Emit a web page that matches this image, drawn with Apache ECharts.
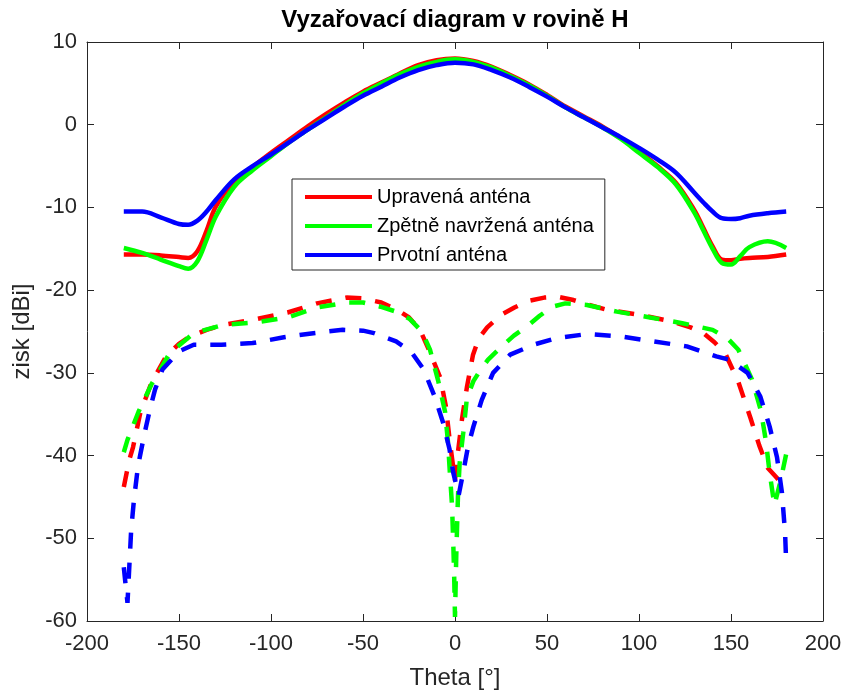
<!DOCTYPE html>
<html>
<head>
<meta charset="utf-8">
<script src="https://cdn.jsdelivr.net/npm/echarts@6/dist/echarts.min.js"></script>
<style>
html,body{margin:0;padding:0;background:#fff;}
#chart{width:844px;height:690px;}
</style>
</head>
<body>
<div id="chart"></div>
<script>
// ---- data ----
const titleText = 'Vyzařovací diagram v rovině H';
const xName = 'Theta [°]';
const yName = 'zisk [dBi]';
const names = ['Upravená anténa', 'Zpětně navržená anténa', 'Prvotní anténa'];

// solid curves (co-polar)
const thetaSolid = [-180,-170,-160,-150,-145,-140,-135,-130,-120,-110,-100,-90,-80,-70,-60,-50,-40,-30,-20,-10,0,10,20,30,40,50,60,70,80,90,100,110,120,130,135,140,145,150,155,160,170,180];
const redSolid   = [-15.7,-15.7,-15.8,-16.0,-16.1,-15.3,-12.8,-9.9,-6.9,-5.1,-3.4,-1.8,-0.2,1.3,2.7,4.0,5.1,6.2,7.2,7.8,8.0,7.7,7.0,6.0,4.9,3.6,2.2,1.0,-0.2,-1.6,-3.2,-5.0,-7.0,-10.3,-12.5,-14.7,-16.3,-16.4,-16.2,-16.1,-16.0,-15.7];
const greenSolid = [-14.9,-15.5,-16.3,-17.1,-17.4,-16.5,-13.9,-11.1,-7.5,-5.5,-3.8,-2.1,-0.6,0.9,2.4,3.8,5.0,6.1,7.0,7.6,7.9,7.6,6.9,5.9,4.8,3.5,2.1,0.9,-0.3,-1.7,-3.4,-5.1,-7.2,-10.6,-12.8,-15.0,-16.7,-16.9,-15.9,-14.8,-14.1,-14.9];
const blueSolid  = [-10.5,-10.5,-11.2,-12.0,-12.1,-11.6,-10.5,-9.1,-6.6,-5.0,-3.6,-2.1,-0.6,0.8,2.2,3.5,4.6,5.7,6.6,7.2,7.5,7.3,6.6,5.7,4.6,3.4,2.1,0.9,-0.3,-1.5,-2.8,-4.2,-5.8,-8.2,-9.4,-10.5,-11.3,-11.4,-11.3,-11.0,-10.7,-10.5];

// dashed curves (cross-polar)
const thetaRedDash = [-180,-177,-175,-171,-165,-157,-150,-144,-135,-126,-108,-91,-75,-59,-50,-40,-32,-25,-19,-14.6,-8,-5,-2.7,0,1.6,3.8,6.5,9.8,13,17.5,25,32.3,40,48.5,56,64.4,73,83.2,101,118,128,135,141,147,154,160.5,165.4,170,174.5,178];
const redDash      = [-43.8,-40.5,-39.0,-34.8,-31.2,-28.0,-26.5,-25.6,-24.8,-24.2,-23.5,-22.7,-21.6,-20.9,-21.0,-21.5,-22.3,-23.3,-24.8,-27.0,-30.6,-34.0,-38.5,-43.0,-39.6,-35.6,-31.7,-27.8,-25.8,-24.5,-23.0,-22.1,-21.3,-20.9,-20.8,-21.2,-21.8,-22.4,-23.0,-23.8,-24.5,-25.2,-26.3,-27.7,-31.1,-35.4,-38.8,-41.5,-42.6,-43.5];

const thetaGreenDash = [-180,-178,-172,-165,-155,-142,-126,-108,-91,-75,-59,-50,-40.5,-32,-24.5,-18,-13.6,-9.2,-5.4,-3.8,-2.7,-1.6,-1,-0.5,0,0.7,1.6,2.5,4.5,6.5,10,14,18,25.4,32,39,46,53,60,71.7,88,106,123.5,140,148,154,161.4,166.3,169,171,173.6,177,180];
const greenDash      = [-39.6,-38.1,-34.7,-31.4,-27.6,-25.2,-24.2,-23.9,-23.3,-22.1,-21.5,-21.5,-22.0,-22.6,-23.5,-25.0,-27.2,-30.9,-34.7,-38.4,-42.4,-46.1,-50.2,-54.0,-59.5,-52.0,-45.0,-41.0,-37.2,-33.0,-31.0,-29.6,-28.4,-26.8,-25.5,-24.4,-23.1,-22.0,-21.6,-21.8,-22.6,-23.3,-24.0,-24.8,-25.8,-27.2,-30.8,-34.6,-38.3,-42.1,-46.0,-43.0,-39.8];

const thetaBlueDash = [-180,-178,-176,-174.5,-172.3,-169,-166,-163,-159,-150,-142,-127,-110,-93,-77,-61,-50,-44,-32,-24,-17,-11,-6.5,-3,-1,2,5,7,10,14.5,20.7,30,42.6,55,72,90,108,126,142,149,154,159,166,171,175,177.7,179.4,180];
const blueDash      = [-53.5,-57.8,-49.0,-45.4,-41.3,-37.6,-34.6,-32.0,-29.6,-27.4,-26.6,-26.6,-26.4,-25.7,-25.2,-24.8,-24.9,-25.2,-26.2,-27.4,-29.6,-32.9,-36.0,-39.2,-42.0,-44.8,-41.4,-39.0,-36.5,-33.3,-30.0,-27.8,-26.6,-25.8,-25.3,-25.6,-26.2,-26.8,-28.0,-28.4,-29.2,-30.0,-32.9,-36.5,-40.2,-44.5,-49.4,-53.0];

const xTicks = {min: -200, max: 200, step: 50};
const yTicks = {min: -60, max: 10, step: 10};

// ---- chart ----
const pair = (t, v) => t.map((x, i) => [x, v[i]]);
const AX = '#262626';
const FONT = '"Liberation Sans", Arial, Helvetica, sans-serif';
const colors = ['#ff0000', '#00ff00', '#0000ff'];
const LW = 4.5;

function axisCommon(extra) {
  return Object.assign({
    type: 'value',
    axisLine: {show: true, onZero: false, lineStyle: {color: AX, width: 1}},
    axisTick: {show: true, inside: true, length: 7, lineStyle: {color: AX, width: 1}},
    splitLine: {show: false}
  }, extra);
}

const chart = echarts.init(document.getElementById('chart'), null, {renderer: 'canvas'});
const solidSets = [redSolid, greenSolid, blueSolid];
const dashSets = [[thetaRedDash, redDash], [thetaGreenDash, greenDash], [thetaBlueDash, blueDash]];

const series = [];
solidSets.forEach((vals, i) => {
  series.push({
    name: names[i], type: 'line', data: pair(thetaSolid, vals),
    showSymbol: false, smooth: 0.35, xAxisIndex: 0, yAxisIndex: 0,
    lineStyle: {color: colors[i], width: LW}, itemStyle: {color: colors[i]},
    z: 3 + i
  });
});
dashSets.forEach((d, i) => {
  series.push({
    name: names[i] + ' (x)', type: 'line', data: pair(d[0], d[1]),
    showSymbol: false, smooth: false, xAxisIndex: 0, yAxisIndex: 0,
    lineStyle: {color: colors[i], width: LW, type: [16, 14], cap: 'butt'},
    itemStyle: {color: colors[i]}, z: 3 + i
  });
});

chart.setOption({
  animation: false,
  backgroundColor: '#ffffff',
  textStyle: {fontFamily: FONT},
  grid: {left: 87, right: 21, top: 42, bottom: 69, containLabel: false, outerBoundsMode: 'none'},
  graphic: [{
    type: 'text', z: 10,
    x: 455, y: 20,
    style: {text: titleText, font: 'bold 24px ' + FONT, fill: '#000', textAlign: 'center', textVerticalAlign: 'middle'}
  }],
  legend: {
    data: names, orient: 'vertical', left: 292, top: 179,
    backgroundColor: '#fff', borderColor: AX, borderWidth: 1,
    padding: [8, 11, 5, 13], itemGap: 9, itemWidth: 67, itemHeight: 4,
    icon: 'rect', selectedMode: false,
    textStyle: {fontSize: 20, color: '#000', fontFamily: FONT, padding: [0, 0, 0, 0]}
  },
  xAxis: [
    axisCommon({min: xTicks.min, max: xTicks.max, interval: xTicks.step, position: 'bottom',
      name: xName, nameLocation: 'middle', nameGap: 45,
      nameTextStyle: {fontSize: 24, color: AX, fontFamily: FONT},
      axisLabel: {show: true, margin: 12, fontSize: 22, color: AX, fontFamily: FONT}}),
    axisCommon({min: xTicks.min, max: xTicks.max, interval: xTicks.step, position: 'top',
      axisLabel: {show: false}})
  ],
  yAxis: [
    axisCommon({min: yTicks.min, max: yTicks.max, interval: yTicks.step, position: 'left',
      name: yName, nameLocation: 'middle', nameGap: 41, nameRotate: 90,
      nameTextStyle: {fontSize: 24, color: AX, fontFamily: FONT},
      axisLabel: {show: true, margin: 10, fontSize: 22, color: AX, fontFamily: FONT}}),
    axisCommon({min: yTicks.min, max: yTicks.max, interval: yTicks.step, position: 'right',
      axisLabel: {show: false}})
  ],
  series: series
});
</script>
</body>
</html>
